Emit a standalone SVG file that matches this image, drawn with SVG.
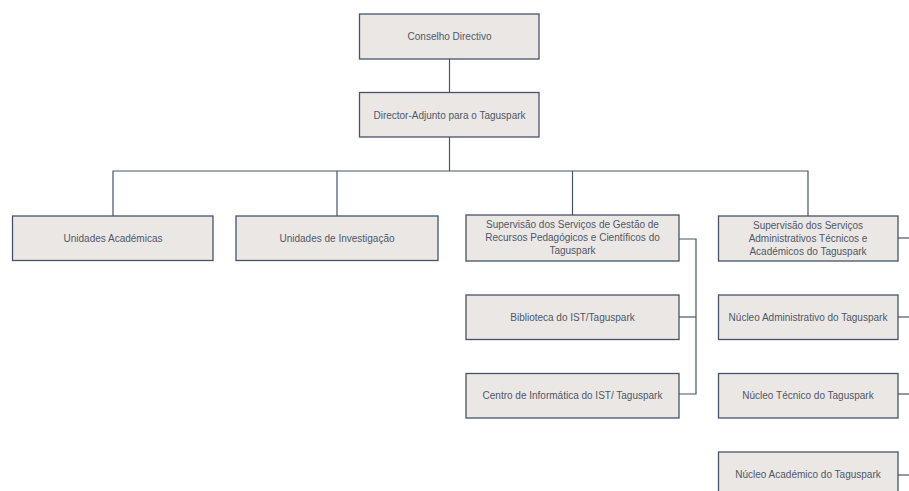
<svg xmlns="http://www.w3.org/2000/svg" width="909" height="491" viewBox="0 0 909 491">
<style>
.box{fill:#ebe7e4;stroke:#46536a;stroke-width:1.3}
.t{font-family:"Liberation Sans",Arial,sans-serif;font-size:10px;fill:#4f5868;text-anchor:middle}
.c{fill:none;stroke:#46536a;stroke-width:1.2}
</style>
<rect width="909" height="491" fill="#ffffff"/>
<g id="connectors">
<path class="c" d="M449.5 59V92.5"/>
<path class="c" d="M449.5 137V171"/>
<path class="c" d="M113 216V171H808V216"/>
<path class="c" d="M337 171V216"/>
<path class="c" d="M572.5 171V215"/>
<path class="c" d="M679 239H696V394H679"/>
<path class="c" d="M679 317H696"/>
<path class="c" d="M898 238H912"/>
<path class="c" d="M898 317H912"/>
<path class="c" d="M898 394H912"/>
<path class="c" d="M898 475H912"/>
</g>
<g id="conselho"><rect class="box" x="359.5" y="14" width="179.5" height="45"/><text class="t" x="449.5" y="40">Conselho Directivo</text></g>
<g id="director"><rect class="box" x="359.5" y="92.5" width="179.5" height="44.5"/><text class="t" x="449.5" y="118.5">Director-Adjunto para o Taguspark</text></g>
<g id="unidades-academicas"><rect class="box" x="12.5" y="216" width="200.5" height="44.5"/><text class="t" x="113" y="242">Unidades Académicas</text></g>
<g id="unidades-investigacao"><rect class="box" x="236" y="216" width="202" height="44.5"/><text class="t" x="337" y="242">Unidades de Investigação</text></g>
<g id="supervisao-recursos"><rect class="box" x="466" y="215" width="213" height="46"/><text class="t" x="572.5" y="228">Supervisão dos Serviços de Gestão de</text><text class="t" x="572.5" y="241">Recursos Pedagógicos e Científicos do</text><text class="t" x="572.5" y="254">Taguspark</text></g>
<g id="biblioteca"><rect class="box" x="466" y="295" width="213" height="44.5"/><text class="t" x="572.5" y="321">Biblioteca do IST/Taguspark</text></g>
<g id="centro-informatica"><rect class="box" x="466" y="373.5" width="213" height="44.5"/><text class="t" x="572.5" y="399">Centro de Informática do IST/ Taguspark</text></g>
<g id="supervisao-administrativos"><rect class="box" x="718.5" y="216" width="179.5" height="45"/><text class="t" x="808" y="229">Supervisão dos Serviços</text><text class="t" x="808" y="242">Administrativos Técnicos e</text><text class="t" x="808" y="255">Académicos do Taguspark</text></g>
<g id="nucleo-administrativo"><rect class="box" x="718.5" y="295" width="179.5" height="44.5"/><text class="t" x="808" y="321">Núcleo Administrativo do Taguspark</text></g>
<g id="nucleo-tecnico"><rect class="box" x="718.5" y="373.5" width="179.5" height="44.5"/><text class="t" x="808" y="399">Núcleo Técnico do Taguspark</text></g>
<g id="nucleo-academico"><rect class="box" x="718.5" y="452" width="179.5" height="46"/><text class="t" x="808" y="478">Núcleo Académico do Taguspark</text></g>
</svg>
